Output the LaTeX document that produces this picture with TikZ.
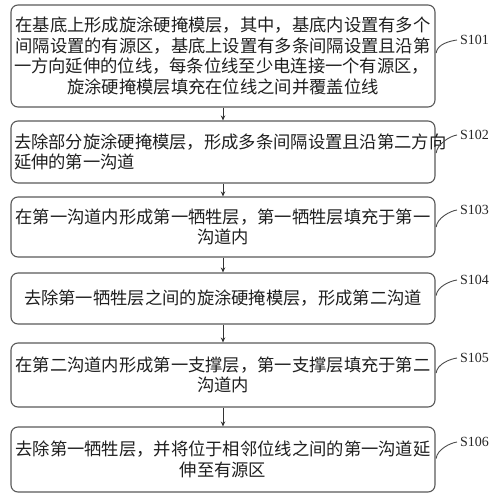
\documentclass[tikz,border=0pt]{standalone}
\usepackage{fontspec}
\setmainfont{Liberation Serif}
\newfontfamily\cjk{Noto Sans CJK SC}
\usetikzlibrary{arrows.meta}
\begin{document}
\begin{tikzpicture}[x=1pt,y=-1pt,
  stepbox/.style={draw=black!65,line width=1.1pt,rounded corners=7pt,
    minimum width=424pt,text width=418pt,inner sep=0pt,align=center,
    font=\cjk\fontsize{17.3}{20.6}\selectfont,text=black!88},
  flow/.style={draw=black!80,line width=1pt,-{Stealth[length=5pt,width=4.5pt]}},
  lab/.style={anchor=west,inner sep=0pt,font=\fontsize{14}{14}\selectfont,text=black!85},
  lead/.style={draw=black!70,line width=0.9pt}]
\useasboundingbox (0,0) rectangle (504,500);
\node[stepbox,minimum height=102pt] (b1) at (223,56)
  {在基底上形成旋涂硬掩模层，其中，基底内设置有多个\\
   间隔设置的有源区，基底上设置有多条间隔设置且沿第\\
   \makebox[\linewidth][l]{一方向延伸的位线，每条位线至少电连接一个有源区，}\\
   旋涂硬掩模层填充在位线之间并覆盖位线};
\node[stepbox,minimum height=62pt] (b2) at (223,152)
  {去除部分旋涂硬掩模层，形成多条间隔设置且沿第二方向\\
   \makebox[\linewidth][l]{延伸的第一沟道}};
\node[stepbox,minimum height=60pt] (b3) at (223,227)
  {在第一沟道内形成第一牺牲层，第一牺牲层填充于第一\\沟道内};
\node[stepbox,minimum height=51pt] (b4) at (223,298.5)
  {去除第一牺牲层之间的旋涂硬掩模层，形成第二沟道};
\node[stepbox,minimum height=64pt] (b5) at (223,375)
  {在第二沟道内形成第一支撑层，第一支撑层填充于第二\\沟道内};
\node[stepbox,minimum height=65pt] (b6) at (223,459.5)
  {去除第一牺牲层，并将位于相邻位线之间的第一沟道延\\伸至有源区};
\foreach \a/\b in {b1/b2,b2/b3,b3/b4,b4/b5,b5/b6}
  \draw[flow] (\a.south) -- (\b.north);
\node[lab] (s1) at (460,40) {S101};
\node[lab] (s2) at (460,135) {S102};
\node[lab] (s3) at (460,210) {S103};
\node[lab] (s4) at (460,280) {S104};
\node[lab] (s5) at (460,358) {S105};
\node[lab] (s6) at (460,442) {S106};
\foreach \b/\s/\d in {b1/s1/-3,b2/s2/1,b3/s3/0,b4/s4/-3,b5/s5/-2,b6/s6/-1}{
  \coordinate (st\s) at ([yshift=-\d pt]\b.east);
  \draw[lead] ([xshift=0.6pt]st\s) .. controls +(1,-9) and +(-7,1) .. ([xshift=-3pt]\s.west);
}
\end{tikzpicture}
\end{document}
